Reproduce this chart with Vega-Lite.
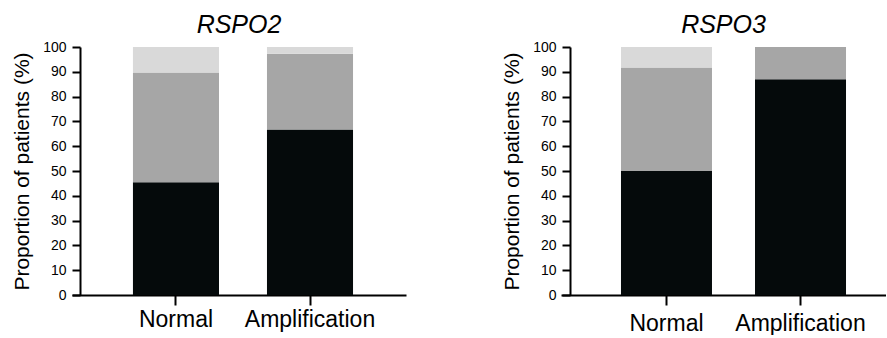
{
  "$schema": "https://vega.github.io/schema/vega-lite/v6.json",
  "padding": {"left": 11, "top": 13, "right": 0, "bottom": 0},
  "spacing": 95,
  "config": {
    "font": "Liberation Sans",
    "view": {"stroke": null},
    "axis": {
      "grid": false,
      "domainColor": "black",
      "domainWidth": 2,
      "tickColor": "black",
      "tickWidth": 2,
      "labelColor": "black",
      "titleColor": "black",
      "labelFont": "Liberation Sans",
      "titleFont": "Liberation Sans"
    },
    "title": {"font": "Liberation Sans", "color": "black"}
  },
  "data": {
    "values": [
      {"gene": "RSPO2", "group": "Normal", "cat": "1", "value": 45.5},
      {"gene": "RSPO2", "group": "Normal", "cat": "2", "value": 44.2},
      {"gene": "RSPO2", "group": "Normal", "cat": "3", "value": 10.3},
      {"gene": "RSPO2", "group": "Amplification", "cat": "1", "value": 66.7},
      {"gene": "RSPO2", "group": "Amplification", "cat": "2", "value": 30.6},
      {"gene": "RSPO2", "group": "Amplification", "cat": "3", "value": 2.7},
      {"gene": "RSPO3", "group": "Normal", "cat": "1", "value": 50.0},
      {"gene": "RSPO3", "group": "Normal", "cat": "2", "value": 41.7},
      {"gene": "RSPO3", "group": "Normal", "cat": "3", "value": 8.3},
      {"gene": "RSPO3", "group": "Amplification", "cat": "1", "value": 87.0},
      {"gene": "RSPO3", "group": "Amplification", "cat": "2", "value": 13.0},
      {"gene": "RSPO3", "group": "Amplification", "cat": "3", "value": 0.0}
    ]
  },
  "hconcat": [
    {
      "width": 334,
      "height": 248,
      "title": {"text": "RSPO2", "fontStyle": "italic", "fontSize": 25, "fontWeight": "normal", "offset": 2},
      "transform": [{"filter": "datum.gene === 'RSPO2'"}],
      "mark": {"type": "bar"},
      "encoding": {
        "x": {
          "field": "group", "type": "nominal", "sort": ["Normal", "Amplification"],
          "scale": {"paddingInner": 0.358, "paddingOuter": 0.425, "align": 0.535},
          "axis": {"title": null, "labelAngle": 0, "labelFontSize": 23, "tickSize": 10, "labelPadding": 3, "labelDx": -5}
        },
        "y": {
          "field": "value", "type": "quantitative", "stack": "zero",
          "scale": {"domain": [0, 100]},
          "axis": {
            "title": "Proportion of patients (%)",
            "values": [0, 10, 20, 30, 40, 50, 60, 70, 80, 90, 100],
            "labelFontSize": 14, "titleFontSize": 21, "titleFontWeight": "normal",
            "tickSize": 8, "offset": -8, "labelPadding": 6, "titlePadding": 10
          }
        },
        "color": {"field": "cat", "type": "nominal", "scale": {"domain": ["1", "2", "3"], "range": ["#050a0b", "#a6a6a6", "#d9d9d9"]}, "legend": null},
        "order": {"field": "cat", "type": "ordinal"}
      }
    },
    {
      "width": 325,
      "height": 248,
      "title": {"text": "RSPO3", "fontStyle": "italic", "fontSize": 25, "fontWeight": "normal", "offset": 2},
      "transform": [{"filter": "datum.gene === 'RSPO3'"}],
      "mark": {"type": "bar"},
      "encoding": {
        "x": {
          "field": "group", "type": "nominal", "sort": ["Normal", "Amplification"],
          "scale": {"paddingInner": 0.321, "paddingOuter": 0.373, "align": 0.6},
          "axis": {"title": null, "labelAngle": 0, "labelFontSize": 23, "tickSize": 10, "labelPadding": 7, "labelDx": -7}
        },
        "y": {
          "field": "value", "type": "quantitative", "stack": "zero",
          "scale": {"domain": [0, 100]},
          "axis": {
            "title": "Proportion of patients (%)",
            "values": [0, 10, 20, 30, 40, 50, 60, 70, 80, 90, 100],
            "labelFontSize": 14, "titleFontSize": 21, "titleFontWeight": "normal",
            "tickSize": 8, "offset": -9, "labelPadding": 6, "titlePadding": 10
          }
        },
        "color": {"field": "cat", "type": "nominal", "scale": {"domain": ["1", "2", "3"], "range": ["#050a0b", "#a6a6a6", "#d9d9d9"]}, "legend": null},
        "order": {"field": "cat", "type": "ordinal"}
      }
    }
  ]
}
